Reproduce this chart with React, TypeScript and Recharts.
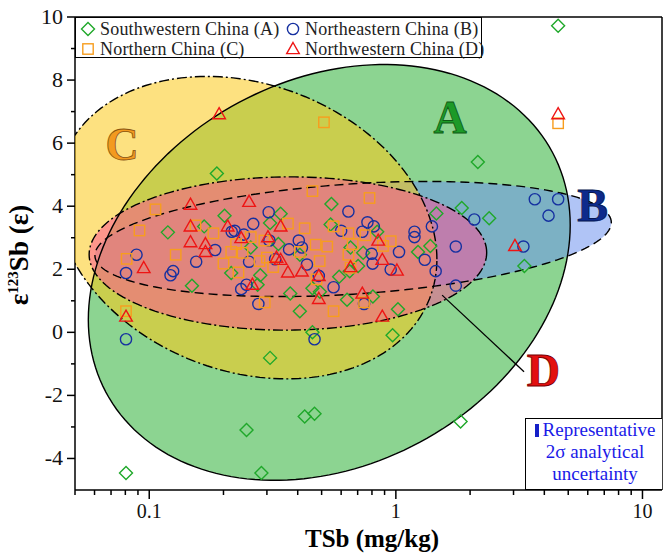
import { ScatterChart, Scatter, XAxis, YAxis, ReferenceLine } from "recharts";

type Pt = { x: number; y: number };
const pts = (rows: number[][]): Pt[] => rows.map(([x, y]) => ({ x, y }));

// TSb (mg/kg), ε123Sb
const southwestern = pts([
  [4.55, 9.72], [0.0805, -4.46], [0.285, -4.46], [0.248, -3.1], [0.427, -2.67],
  [0.468, -2.58], [1.83, -2.83], [0.309, -0.81], [0.97, -0.09], [0.459, 0.0],
  [0.408, 0.67], [1.02, 0.73], [0.188, 5.04], [2.15, 5.4], [1.85, 3.94],
  [2.39, 3.62], [3.32, 2.1], [1.46, 3.77], [1.38, 2.74], [1.23, 2.55],
  [0.548, 4.07], [0.341, 3.76], [0.202, 3.7], [0.167, 3.36], [0.119, 3.17],
  [0.309, 3.47], [0.544, 3.42], [0.84, 3.19], [0.737, 2.52], [0.655, 2.69],
  [0.149, 1.48], [0.215, 1.88], [0.282, 1.81], [0.275, 1.51], [0.373, 1.23],
  [0.492, 1.29], [0.634, 1.03], [0.807, 1.14], [0.589, 1.76], [0.65, 1.94],
  [0.703, 2.1], [0.334, 2.8], [0.258, 2.69], [0.408, 2.46], [0.459, 1.4],
]);

const northeastern = pts([
  [0.0805, -0.22], [0.468, -0.22], [0.0805, 1.88], [0.0888, 2.46], [0.122, 1.81],
  [0.125, 1.94], [0.155, 2.24], [0.185, 2.61], [0.216, 3.19], [0.242, 3.1],
  [0.264, 3.44], [0.305, 3.81], [0.254, 2.24], [0.236, 1.37], [0.248, 1.51],
  [0.277, 0.9], [0.324, 2.32], [0.369, 2.63], [0.404, 2.91], [0.416, 2.69],
  [0.436, 2.15], [0.487, 1.79], [0.559, 1.43], [0.6, 3.22], [0.642, 3.83],
  [0.731, 3.19], [0.767, 3.49], [0.814, 3.36], [0.798, 2.49], [0.805, 2.18],
  [0.743, 0.9], [0.953, 1.99], [1.03, 2.55], [1.19, 3.19], [1.19, 3.02],
  [1.31, 2.3], [1.45, 1.94], [1.4, 3.36], [1.75, 2.72], [1.75, 1.48],
  [2.08, 3.58], [3.29, 2.72], [3.66, 4.22], [4.16, 3.7], [4.55, 4.22],
  [0.222, 3.22], [0.307, 2.91],
]);

const northern = pts([
  [0.511, 6.66], [4.55, 6.63], [0.459, 4.48], [0.782, 4.26], [0.106, 3.9],
  [0.0913, 3.23], [0.081, 2.33], [0.0805, 0.67], [0.128, 2.46], [0.154, 3.39],
  [0.182, 3.14], [0.2, 2.18], [0.23, 1.9], [0.225, 2.8], [0.215, 2.55],
  [0.239, 2.52], [0.28, 2.26], [0.293, 2.91], [0.294, 0.95], [0.318, 2.07],
  [0.365, 3.45], [0.408, 2.55], [0.427, 3.3], [0.473, 2.78], [0.491, 2.26],
  [0.477, 1.68], [0.527, 2.72], [0.559, 0.67], [0.559, 3.36], [0.642, 3.14],
  [0.642, 2.46], [0.668, 2.8], [0.655, 2.05], [0.752, 3.08], [0.887, 2.74],
  [0.953, 2.89], [0.258, 3.02], [0.3, 2.37], [0.743, 0.95],
]);

const northwestern = pts([
  [0.192, 6.92], [4.55, 6.92], [3.04, 2.74], [0.0805, 0.5], [0.095, 2.04],
  [0.147, 4.05], [0.147, 3.36], [0.147, 2.86], [0.169, 2.8], [0.169, 2.55],
  [0.208, 3.36], [0.254, 4.14], [0.236, 2.99], [0.262, 1.51], [0.303, 3.02],
  [0.341, 3.36], [0.341, 2.3], [0.365, 1.9], [0.416, 1.93], [0.487, 1.06],
  [0.487, 1.79], [0.655, 2.07], [0.731, 1.23], [0.848, 2.91], [0.881, 2.3],
  [0.881, 0.5], [1.01, 1.96], [0.328, 2.37],
]);

// field outlines: centre (TSb, ε) and conjugate half-axes (log10 decades, ε units)
type Zone = { key: "A" | "B" | "C" | "D"; cx: number; cy: number; ux: number; uy: number; vy: number };
const zones: Zone[] = [
  { key: "A", cx: 0.537, cy: 1.9, ux: 0.977, uy: 1.5, vy: 6.42 },
  { key: "B", cx: 0.671, cy: 2.96, ux: 1.047, uy: 0.52, vy: 1.75 },
  { key: "C", cx: 0.248, cy: 3.32, ux: 0.772, uy: -1.0, vy: 4.69 },
  { key: "D", cx: 0.365, cy: 2.5, ux: 0.806, uy: 0.03, vy: 2.43 },
];

const labels = [
  { x: 1.66, y: 6.8, text: "A" },
  { x: 6.27, y: 4.01, text: "B" },
  { x: 0.0777, y: 5.95, text: "C" },
  { x: 3.96, y: -1.22, text: "D" },
];
const pointerLine: Pt[] = [{ x: 1.54, y: 1.18 }, { x: 3.31, y: -1.25 }];

const xTicks = [0.05, 0.06, 0.07, 0.08, 0.09, 0.1, 0.2, 0.3, 0.4, 0.5, 0.6, 0.7, 0.8, 0.9, 1, 2, 3, 4, 5, 6, 7, 8, 9, 10];
const xLabelled = [0.1, 1, 10];
const yTicks = [-4, -3, -2, -1, 0, 1, 2, 3, 4, 5, 6, 7, 8, 9, 10];

const GREEN = "#1fa82a";
const BLUE = "#1530a0";
const ORANGE = "#f79d1e";
const RED = "#ee1414";
const FONT = "'Liberation Serif', 'Times New Roman', serif";

const zoneStyle = {
  A: { fill: "rgb(140,212,145)", opacity: 1, dash: undefined as string | undefined },
  B: { fill: "rgb(111,148,239)", opacity: 0.55, dash: "9 5" },
  C: { fill: "rgb(251,200,24)", opacity: 0.55, dash: "10 3 2 3" },
  D: { fill: "rgb(255,75,150)", opacity: 0.5, dash: "10 3 2 3" },
};

const labelStyle: Record<string, { fill: string; stroke: string }> = {
  A: { fill: "#1c9a28", stroke: "#0d5a14" },
  B: { fill: "#0c2a8c", stroke: "#06164f" },
  C: { fill: "#f39a1f", stroke: "#8a5410" },
  D: { fill: "#e31010", stroke: "#7a0000" },
};

const outline = (z: Zone): Pt[] => {
  const out: Pt[] = [];
  const n = 180;
  for (let i = 0; i < n; i++) {
    const t = (i / n) * 2 * Math.PI;
    out.push({
      x: z.cx * Math.pow(10, z.ux * Math.cos(t)),
      y: z.cy + z.uy * Math.cos(t) + z.vy * Math.sin(t),
    });
  }
  return out;
};

const closedPath = (points: Pt[]) =>
  points.map((p, i) => `${i ? "L" : "M"}${p.x.toFixed(2)},${p.y.toFixed(2)}`).join("") + "Z";

const noShape = () => <g />;

const Diamond = (p: any) => (
  <path
    d={`M${p.cx},${p.cy - 6.5}L${p.cx + 6.5},${p.cy}L${p.cx},${p.cy + 6.5}L${p.cx - 6.5},${p.cy}Z`}
    fill="none" stroke={GREEN} strokeWidth={1.4}
  />
);
const Circle = (p: any) => <circle cx={p.cx} cy={p.cy} r={5.6} fill="none" stroke={BLUE} strokeWidth={1.4} />;
const Square = (p: any) => (
  <rect x={p.cx - 5.2} y={p.cy - 5.2} width={10.4} height={10.4} fill="none" stroke={ORANGE} strokeWidth={1.4} />
);
const Triangle = (p: any) => (
  <path
    d={`M${p.cx},${p.cy - 6.5}L${p.cx + 6.3},${p.cy + 4.6}L${p.cx - 6.3},${p.cy + 4.6}Z`}
    fill="none" stroke={RED} strokeWidth={1.4}
  />
);

const Letter = (p: any) => {
  const s = labelStyle[p.payload.text];
  return (
    <text
      x={p.cx} y={p.cy} textAnchor="middle" dominantBaseline="central"
      fontFamily={FONT} fontWeight="bold" fontSize={46}
      fill={s.fill} stroke={s.stroke} strokeWidth={0.8}
    >
      {p.payload.text}
    </text>
  );
};

const XTick = (p: any) => {
  const major = xLabelled.includes(p.payload.value);
  return (
    <g>
      <line x1={p.x} x2={p.x} y1={p.y} y2={p.y + (major ? 9 : 5)} stroke="#000" strokeWidth={1.5} />
      {major && (
        <text x={p.x} y={p.y + 28} textAnchor="middle" fontFamily={FONT} fontSize={20} fill="#111">
          {p.payload.value}
        </text>
      )}
    </g>
  );
};

const YTick = (p: any) => {
  const major = p.payload.value % 2 === 0;
  return (
    <g>
      <line x1={p.x} x2={p.x - (major ? 8 : 4)} y1={p.y} y2={p.y} stroke="#000" strokeWidth={1.5} />
      {major && (
        <text x={p.x - 12} y={p.y + 7} textAnchor="end" fontFamily={FONT} fontSize={22} fill="#111">
          {p.payload.value}
        </text>
      )}
    </g>
  );
};

const YTitle = () => (
  <text
    x={28} y={255} transform="rotate(-90 28 255)" textAnchor="middle"
    fontFamily={FONT} fontWeight="bold" fontSize={27} fill="#000"
  >
    ε<tspan dy={-10} fontSize={15}>123</tspan>
    <tspan dy={10}>Sb (ε)</tspan>
  </text>
);

const XTitle = () => (
  <text x={372} y={547} textAnchor="middle" fontFamily={FONT} fontWeight="bold" fontSize={25} fill="#000">
    TSb (mg/kg)
  </text>
);

const legendItems = [
  { name: "Southwestern China (A)", Icon: Diamond, left: 0, top: 2 },
  { name: "Northeastern China (B)", Icon: Circle, left: 205, top: 2 },
  { name: "Northern China (C)", Icon: Square, left: 0, top: 22 },
  { name: "Northwestern China (D)", Icon: Triangle, left: 205, top: 22 },
];

export default function App() {
  return (
    <div style={{ position: "absolute", left: 0, top: 0, width: 663, height: 553, background: "#fff" }}>
      <ScatterChart width={663} height={553} margin={{ top: 17, right: 1, bottom: 0, left: 0 }}>
        <XAxis
          type="number" dataKey="x" scale="log" domain={[0.05, 12]} allowDataOverflow
          ticks={xTicks} tick={<XTick />} tickLine={false} tickSize={0} tickMargin={0}
          height={63} stroke="#000" strokeWidth={1.5} interval={0}
          label={<XTitle />}
        />
        <YAxis
          type="number" dataKey="y" domain={[-5, 10]} allowDataOverflow
          ticks={yTicks} tick={<YTick />} tickLine={false} tickSize={0} tickMargin={0}
          width={75} stroke="#000" strokeWidth={1.5} interval={0}
          label={<YTitle />}
        />
        {zones.map((z) => {
          const s = zoneStyle[z.key];
          return (
            <Scatter
              key={`fill-${z.key}`} data={outline(z)} isAnimationActive={false}
              shape={noShape} lineType="joint"
              line={(p: any) => <path d={closedPath(p.points)} fill={s.fill} fillOpacity={s.opacity} stroke="none" />}
            />
          );
        })}
        {zones.map((z) => {
          const s = zoneStyle[z.key];
          return (
            <Scatter
              key={`edge-${z.key}`} data={outline(z)} isAnimationActive={false}
              shape={noShape} lineType="joint"
              line={(p: any) => (
                <path d={closedPath(p.points)} fill="none" stroke="#000" strokeWidth={1.4} strokeDasharray={s.dash} />
              )}
            />
          );
        })}
        <Scatter
          data={pointerLine} isAnimationActive={false} shape={noShape} lineType="joint"
          line={{ stroke: "#000", strokeWidth: 1.3 }}
        />
        <ReferenceLine y={10} stroke="#000" strokeWidth={1.5} />
        <ReferenceLine x={12} stroke="#000" strokeWidth={1.5} />
        <Scatter data={southwestern} isAnimationActive={false} shape={Diamond} />
        <Scatter data={northeastern} isAnimationActive={false} shape={Circle} />
        <Scatter data={northern} isAnimationActive={false} shape={Square} />
        <Scatter data={northwestern} isAnimationActive={false} shape={Triangle} />
        <Scatter data={labels} isAnimationActive={false} shape={Letter} />
      </ScatterChart>

      <div
        style={{
          position: "absolute", left: 75, top: 17, width: 407, height: 41, boxSizing: "border-box",
          border: "1.5px solid #000", background: "#fff", fontFamily: FONT, fontSize: 18, color: "#222",
        }}
      >
        {legendItems.map(({ name, Icon, left, top }) => (
          <div key={name} style={{ position: "absolute", left: left + 3, top: top, height: 18, display: "flex", alignItems: "center" }}>
            <svg width={18} height={18}>
              <Icon cx={9} cy={9} />
            </svg>
            <span style={{ marginLeft: 3, whiteSpace: "nowrap", letterSpacing: 0.2 }}>{name}</span>
          </div>
        ))}
      </div>

      <div
        style={{
          position: "absolute", left: 525, top: 418, width: 137, height: 72, boxSizing: "border-box",
          border: "1.5px solid #000", borderRight: "none", background: "#fff", fontFamily: FONT, fontSize: 19,
          color: "#1a1ae8", textAlign: "center", lineHeight: "22px", paddingLeft: 2,
        }}
      >
        <div style={{ whiteSpace: "nowrap" }}>
          <span style={{ display: "inline-block", width: 4, height: 13, background: "#1520c8", marginRight: 4, verticalAlign: "-1px" }} />
          Representative
        </div>
        <div>2σ analytical</div>
        <div>uncertainty</div>
      </div>
    </div>
  );
}
